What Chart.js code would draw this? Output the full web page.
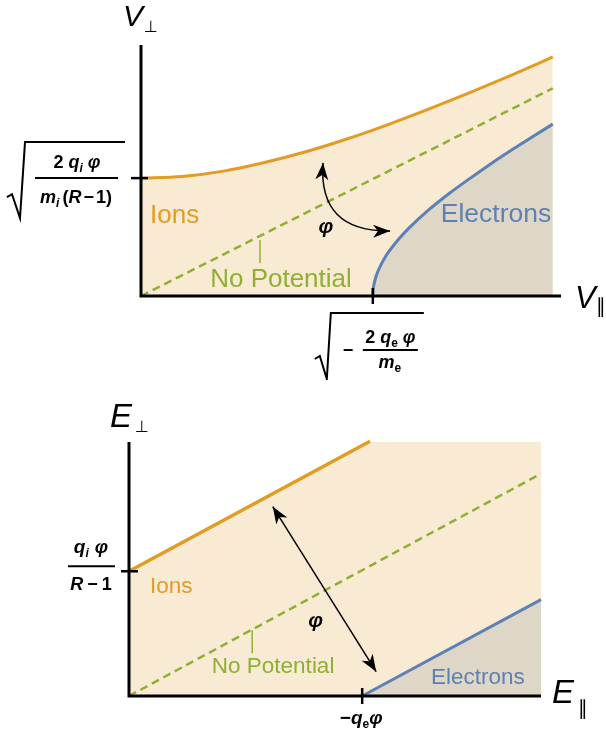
<!DOCTYPE html>
<html>
<head>
<meta charset="utf-8">
<script src="https://cdn.jsdelivr.net/npm/chart.js@4/dist/chart.umd.min.js"></script>
<style>
  html, body { margin: 0; padding: 0; background: #ffffff; }
  #wrap { position: relative; width: 606px; height: 735px; }
  canvas { position: absolute; left: 0; }
</style>
</head>
<body>
<div id="wrap">
  <canvas id="velocity" width="606" height="380" style="top:0"></canvas>
  <canvas id="energy" width="606" height="355" style="top:380px"></canvas>
</div>
<script>
// ---- Velocity space (V_parallel, V_perp) ----
// Ion trapping boundary
const vIonPar  = [0, 1, 2, 3, 4, 5, 6, 7, 8, 9, 10];
const vIonPerp = [2.86, 2.90, 3.03, 3.24, 3.50, 3.81, 4.16, 4.54, 4.94, 5.36, 5.80];
// Electron trapping boundary
const vElecPar  = [5.63, 5.64, 5.66, 5.70, 5.75, 5.80, 5.90, 6.00, 6.25, 6.50, 7.00, 7.50, 8.00, 8.50, 9.00, 9.50, 10.00];
const vElecPerp = [0, 0.17, 0.29, 0.45, 0.59, 0.70, 0.89, 1.05, 1.37, 1.64, 2.10, 2.50, 2.86, 3.21, 3.54, 3.86, 4.17];
// Loss-cone line with no potential
const vNoPotPar  = [0, 10];
const vNoPotPerp = [0, 5.04];

// ---- Energy space (E_parallel, E_perp) ----
const eIonPar  = [0, 5.85];
const eIonPerp = [3.03, 6.19];
const eRegionPar  = [0, 5.85, 10];
const eRegionPerp = [3.03, 6.19, 6.19];
const eElecPar  = [5.66, 10];
const eElecPerp = [0, 2.34];
const eNoPotPar  = [0, 10];
const eNoPotPerp = [0, 5.40];

// Region labels
const regionLabels = ['Ions', 'No Potential', 'Electrons'];

const ORANGE = '#E19C24';
const BLUE   = '#5E81B5';
const GREEN  = '#8FB032';
const BEIGE  = 'rgb(249,234,212)';
const GREY   = 'rgb(222,215,199)';
const SANS = '"Liberation Sans", Arial, "DejaVu Sans", sans-serif';
const SYM  = '"DejaVu Sans", "Liberation Sans", sans-serif';
const BI = s => `italic bold ${s}px ${SANS}`;
const B  = s => `bold ${s}px ${SANS}`;

const pts = (xs, ys) => xs.map((x, i) => ({ x, y: ys[i] }));

// Draw a sequence of text runs; numbers in the list are gaps in pixels
function drawRuns(ctx, runs, x, y, align) {
  let w = 0;
  const widths = runs.map(r => {
    if (typeof r === 'number') { w += r; return r; }
    ctx.font = r[1];
    const m = ctx.measureText(r[0]).width;
    w += m; return m;
  });
  let cx = align === 'center' ? x - w / 2 : x;
  ctx.textAlign = 'left';
  ctx.textBaseline = 'alphabetic';
  runs.forEach((r, i) => {
    if (typeof r !== 'number') {
      ctx.font = r[1];
      ctx.fillText(r[0], cx, y + (r[2] || 0));
    }
    cx += widths[i];
  });
}

function arrowHead(ctx, tx, ty, ang, len = 17, half = 6.5) {
  ctx.save();
  ctx.translate(tx, ty);
  ctx.rotate(ang);
  ctx.beginPath();
  ctx.moveTo(0, 0);
  ctx.lineTo(-len, -half);
  ctx.lineTo(-len * 0.72, 0);
  ctx.lineTo(-len, half);
  ctx.closePath();
  ctx.fill();
  ctx.restore();
}

function polyline(ctx, list) {
  ctx.beginPath();
  list.forEach((p, i) => i ? ctx.lineTo(p[0], p[1]) : ctx.moveTo(p[0], p[1]));
  ctx.stroke();
}

function drawAxes(ctx, a) {
  ctx.strokeStyle = '#000';
  ctx.lineWidth = 3;
  ctx.lineCap = 'butt';
  ctx.beginPath();
  ctx.moveTo(a.left, a.top);
  ctx.lineTo(a.left, a.bottom + 1.5);
  ctx.moveTo(a.left - 1.5, a.bottom);
  ctx.lineTo(a.right, a.bottom);
  ctx.stroke();
}

function regionText(chart, text, x, y, size, color) {
  const ctx = chart.ctx;
  ctx.font = `${size}px ${SANS}`;
  ctx.fillStyle = color;
  ctx.textAlign = 'left';
  ctx.textBaseline = 'alphabetic';
  ctx.fillText(text, chart.scales.x.getPixelForValue(x), chart.scales.y.getPixelForValue(y));
}

function connector(chart, x, y0, y1) {
  const ctx = chart.ctx, sx = chart.scales.x, sy = chart.scales.y;
  ctx.strokeStyle = GREEN;
  ctx.lineWidth = 1.5;
  polyline(ctx, [[sx.getPixelForValue(x), sy.getPixelForValue(y0)], [sx.getPixelForValue(x), sy.getPixelForValue(y1)]]);
}

const velocityDecor = {
  id: 'velocityDecor',
  afterDraw(chart) {
    const ctx = chart.ctx, a = chart.chartArea, sx = chart.scales.x, sy = chart.scales.y;
    ctx.save();
    drawAxes(ctx, a);

    // ticks
    const ty = sy.getPixelForValue(vIonPerp[0]);
    const tx = sx.getPixelForValue(vElecPar[0]);
    ctx.lineWidth = 2.5;
    polyline(ctx, [[a.left - 10, ty], [a.left + 7, ty]]);
    polyline(ctx, [[tx, a.bottom - 8], [tx, a.bottom + 8]]);

    // y tick label: sqrt(2 q_i phi / (m_i (R-1)))
    ctx.fillStyle = '#000';
    ctx.lineWidth = 2;
    polyline(ctx, [[a.left - 134, ty + 19], [a.left - 129, ty + 16], [a.left - 121, ty + 40], [a.left - 116, ty - 36], [a.left - 16, ty - 36]]);
    polyline(ctx, [[a.left - 106, ty], [a.left - 23, ty]]);
    drawRuns(ctx, [['2', B(18)], 5, ['q', BI(18)], ['i', BI(12), 4], 5, ['φ', BI(18)]], a.left - 64, ty - 10, 'center');
    drawRuns(ctx, [['m', BI(18)], ['i', BI(12), 4], 3, ['(', B(18)], ['R', BI(18)], 2, ['−', B(18)], 2, ['1', B(18)], [')', B(18)]], a.left - 65, ty + 25, 'center');

    // x tick label: sqrt(-2 q_e phi / m_e)
    const bx = tx, by = a.bottom;
    polyline(ctx, [[bx - 58, by + 63], [bx - 53, by + 60], [bx - 46, by + 83], [bx - 42, by + 17], [bx + 51, by + 17]]);
    drawRuns(ctx, [['−', B(18)]], bx - 30, by + 60, 'left');
    polyline(ctx, [[bx - 10, by + 54], [bx + 45, by + 54]]);
    drawRuns(ctx, [['2', B(18)], 5, ['q', BI(18)], ['e', B(12), 4], 5, ['φ', BI(18)]], bx + 17.5, by + 47, 'center');
    drawRuns(ctx, [['m', BI(18)], ['e', B(12), 4]], bx + 17, by + 72, 'center');

    // axis titles
    ctx.fillStyle = '#000';
    drawRuns(ctx, [['V', `italic 30px ${SANS}`]], a.left - 18, a.top - 19, 'left');
    drawRuns(ctx, [['⊥', `16px ${SYM}`]], a.left + 3, a.top - 13, 'left');
    drawRuns(ctx, [['V', `italic 31px ${SANS}`]], a.right + 14, a.bottom + 12, 'left');
    drawRuns(ctx, [['∥', `20px ${SYM}`]], a.right + 35, a.bottom + 17, 'left');

    // region labels
    regionText(chart, regionLabels[0], 0.22, 1.77, 26, ORANGE);
    regionText(chart, regionLabels[1], 1.68, 0.22, 26, GREEN);
    regionText(chart, regionLabels[2], 7.28, 1.80, 26.5, BLUE);
    connector(chart, 2.89, 1.36, 0.80);

    // curved arrow showing the effect of the potential
    const p0 = [sx.getPixelForValue(4.42), sy.getPixelForValue(3.23)];
    const pc = [sx.getPixelForValue(4.30), sy.getPixelForValue(1.55)];
    const p1 = [sx.getPixelForValue(6.05), sy.getPixelForValue(1.58)];
    ctx.strokeStyle = '#000';
    ctx.fillStyle = '#000';
    ctx.lineWidth = 1.5;
    ctx.beginPath();
    ctx.moveTo(p0[0], p0[1]);
    ctx.quadraticCurveTo(pc[0], pc[1], p1[0], p1[1]);
    ctx.stroke();
    arrowHead(ctx, p0[0], p0[1], Math.atan2(p0[1] - pc[1], p0[0] - pc[0]));
    arrowHead(ctx, p1[0], p1[1], Math.atan2(p1[1] - pc[1], p1[0] - pc[0]));
    drawRuns(ctx, [['φ', BI(21)]], sx.getPixelForValue(4.49), sy.getPixelForValue(1.53), 'center');
    ctx.restore();
  }
};

const energyDecor = {
  id: 'energyDecor',
  afterDraw(chart) {
    const ctx = chart.ctx, a = chart.chartArea, sx = chart.scales.x, sy = chart.scales.y;
    ctx.save();
    drawAxes(ctx, a);

    const ty = sy.getPixelForValue(eIonPerp[0]);
    const tx = sx.getPixelForValue(eElecPar[0]);
    ctx.lineWidth = 2.5;
    polyline(ctx, [[a.left - 8, ty], [a.left + 9, ty]]);
    polyline(ctx, [[tx, a.bottom - 8], [tx, a.bottom + 8]]);

    // y tick label: q_i phi / (R - 1)
    ctx.fillStyle = '#000';
    ctx.lineWidth = 2;
    polyline(ctx, [[a.left - 61, ty - 5], [a.left - 14, ty - 5]]);
    drawRuns(ctx, [['q', BI(19)], ['i', BI(12), 4], 6, ['φ', BI(19)]], a.left - 38, ty - 18, 'center');
    drawRuns(ctx, [['R', BI(18)], 4, ['−', B(18)], 4, ['1', B(18)]], a.left - 38, ty + 19, 'center');

    // x tick label: -q_e phi
    drawRuns(ctx, [['−', B(19)], ['q', BI(19)], ['e', B(12), 4], ['φ', BI(19)]], tx - 1, a.bottom + 28, 'center');

    // axis titles
    drawRuns(ctx, [['E', `italic 33px ${SANS}`]], a.left - 19, a.top - 15, 'left');
    drawRuns(ctx, [['⊥', `16px ${SYM}`]], a.left + 6, a.top - 10, 'left');
    drawRuns(ctx, [['E', `italic 33px ${SANS}`]], a.right + 11, a.bottom + 7, 'left');
    drawRuns(ctx, [['∥', `20px ${SYM}`]], a.right + 37, a.bottom + 19, 'left');

    // region labels
    regionText(chart, regionLabels[0], 0.51, 2.50, 22.5, ORANGE);
    regionText(chart, regionLabels[1], 2.01, 0.56, 22.5, GREEN);
    regionText(chart, regionLabels[2], 7.33, 0.29, 22.5, BLUE);
    connector(chart, 2.99, 1.60, 1.04);

    // double arrow of width phi
    const q0 = [sx.getPixelForValue(3.49), sy.getPixelForValue(4.60)];
    const q1 = [sx.getPixelForValue(6.00), sy.getPixelForValue(0.59)];
    ctx.strokeStyle = '#000';
    ctx.fillStyle = '#000';
    ctx.lineWidth = 1.5;
    polyline(ctx, [q0, q1]);
    const ang = Math.atan2(q1[1] - q0[1], q1[0] - q0[0]);
    arrowHead(ctx, q1[0], q1[1], ang);
    arrowHead(ctx, q0[0], q0[1], ang + Math.PI);
    drawRuns(ctx, [['φ', BI(21)]], sx.getPixelForValue(4.53), sy.getPixelForValue(1.67), 'center');
    ctx.restore();
  }
};

const baseOptions = (padding, xMax, yMax) => ({
  responsive: false,
  animation: false,
  events: [],
  layout: { padding },
  plugins: { legend: { display: false }, tooltip: { enabled: false } },
  elements: { point: { radius: 0 } },
  scales: {
    x: { type: 'linear', min: 0, max: xMax, display: false },
    y: { type: 'linear', min: 0, max: yMax, display: false }
  }
});

new Chart(document.getElementById('velocity'), {
  type: 'line',
  data: {
    datasets: [
      { data: pts(vIonPar, vIonPerp), borderColor: ORANGE, borderWidth: 3, fill: 'origin',
        backgroundColor: BEIGE, cubicInterpolationMode: 'monotone', order: 3, clip: false },
      { data: pts(vElecPar, vElecPerp), borderColor: BLUE, borderWidth: 3, fill: 'origin',
        backgroundColor: GREY, cubicInterpolationMode: 'monotone', order: 2, clip: false },
      { data: pts(vNoPotPar, vNoPotPerp), borderColor: GREEN, borderWidth: 2.5, borderDash: [8, 5],
        fill: false, order: 1, clip: false }
    ]
  },
  options: baseOptions({ left: 141, right: 45, top: 45, bottom: 84 }, 10.2, 6.09),
  plugins: [velocityDecor]
});

new Chart(document.getElementById('energy'), {
  type: 'line',
  data: {
    datasets: [
      { data: pts(eRegionPar, eRegionPerp), borderWidth: 0, borderColor: 'rgba(0,0,0,0)', fill: 'origin',
        backgroundColor: BEIGE, order: 4, clip: false },
      { data: pts(eIonPar, eIonPerp), borderColor: ORANGE, borderWidth: 3.5, fill: false, order: 3, clip: false },
      { data: pts(eElecPar, eElecPerp), borderColor: BLUE, borderWidth: 3, fill: 'origin',
        backgroundColor: GREY, order: 2, clip: false },
      { data: pts(eNoPotPar, eNoPotPerp), borderColor: GREEN, borderWidth: 2.5, borderDash: [8, 5],
        fill: false, order: 1, clip: false }
    ]
  },
  options: baseOptions({ left: 129, right: 65, top: 62, bottom: 39 }, 10, 6.17),
  plugins: [energyDecor]
});
</script>
</body>
</html>
